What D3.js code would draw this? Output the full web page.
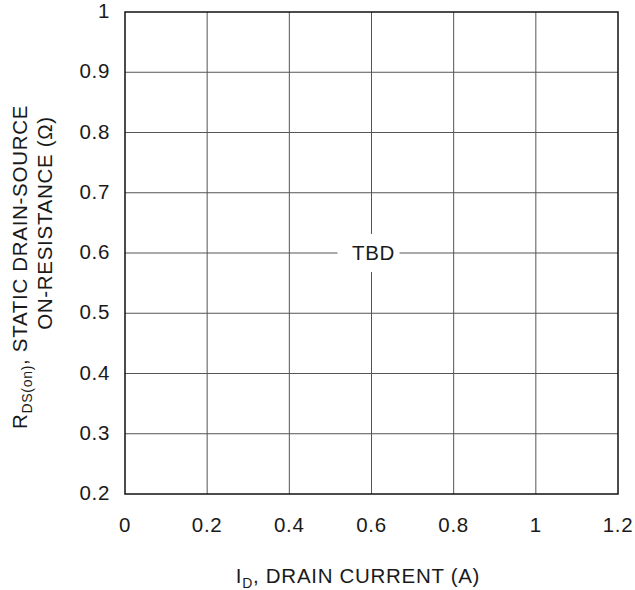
<!DOCTYPE html>
<html>
<head>
<meta charset="utf-8">
<script src="https://cdn.jsdelivr.net/npm/d3@7"></script>
<style>
  body { margin: 0; background: #fff; }
  text { font-family: "Liberation Sans", Arial, sans-serif; fill: #1a1a1a; letter-spacing: 0.7px; }
</style>
</head>
<body>
<svg id="chart" width="635" height="590"></svg>
<script>
// axis ticks
const xTicks = [0, 0.2, 0.4, 0.6, 0.8, 1, 1.2];
const yTicks = [0.2, 0.3, 0.4, 0.5, 0.6, 0.7, 0.8, 0.9, 1];
const xDomain = [0, 1.2];
const yDomain = [0.2, 1];
const note = {x: 0.6, y: 0.6, text: "TBD"};

const svg = d3.select("#chart");
const plotL = 125, plotR = 618, plotT = 12, plotB = 494;
const fs = 20.5;

const x = d3.scaleLinear().domain(xDomain).range([plotL, plotR]);
const y = d3.scaleLinear().domain(yDomain).range([plotB, plotT]);

// grid
const grid = svg.append("g");
grid.selectAll(".vx").data(xTicks.slice(1, -1)).join("line")
    .attr("x1", d => x(d)).attr("x2", d => x(d))
    .attr("y1", plotT).attr("y2", plotB)
    .attr("stroke", "#555").attr("stroke-width", 1);
grid.selectAll(".hy").data(yTicks.slice(1, -1)).join("line")
    .attr("x1", plotL).attr("x2", plotR)
    .attr("y1", d => y(d)).attr("y2", d => y(d))
    .attr("stroke", "#555").attr("stroke-width", 1);

// border
svg.append("rect")
    .attr("x", plotL).attr("y", plotT)
    .attr("width", plotR - plotL).attr("height", plotB - plotT)
    .attr("fill", "none").attr("stroke", "#111").attr("stroke-width", 1.5);

// tick labels
svg.append("g").selectAll("text").data(yTicks).join("text")
    .attr("x", plotL - 15).attr("y", d => y(d))
    .attr("dy", "0.3em").attr("text-anchor", "end")
    .attr("font-size", fs).text(d => d);

svg.append("g").selectAll("text").data(xTicks).join("text")
    .attr("x", d => x(d)).attr("y", 532)
    .attr("text-anchor", "middle")
    .attr("font-size", fs).text(d => d);

// TBD note
svg.append("rect")
    .attr("x", x(note.x) - 34).attr("y", y(note.y) - 19)
    .attr("width", 62).attr("height", 38).attr("fill", "#fff");
svg.append("text")
    .attr("x", x(note.x) + 2).attr("y", y(note.y))
    .attr("dy", "0.35em").attr("text-anchor", "middle")
    .attr("font-size", fs).text(note.text);

// x axis title
const xt = svg.append("text")
    .attr("x", 358).attr("y", 583)
    .attr("text-anchor", "middle").attr("font-size", fs);
xt.append("tspan").text("I");
xt.append("tspan").attr("font-size", 14).attr("dy", 5).text("D");
xt.append("tspan").attr("dy", -5).text(", DRAIN CURRENT (A)");

// y axis title
const l1 = svg.append("text")
    .attr("transform", "translate(27,267) rotate(-90)")
    .attr("text-anchor", "middle").attr("font-size", fs);
l1.append("tspan").text("R");
l1.append("tspan").attr("font-size", 14).attr("dy", 5).text("DS(on)");
l1.append("tspan").attr("dy", -5).text(", STATIC DRAIN-SOURCE");
svg.append("text")
    .attr("transform", "translate(52,223) rotate(-90)")
    .attr("text-anchor", "middle")
    .attr("font-size", fs).text("ON-RESISTANCE (\u03A9)");
</script>
</body>
</html>
